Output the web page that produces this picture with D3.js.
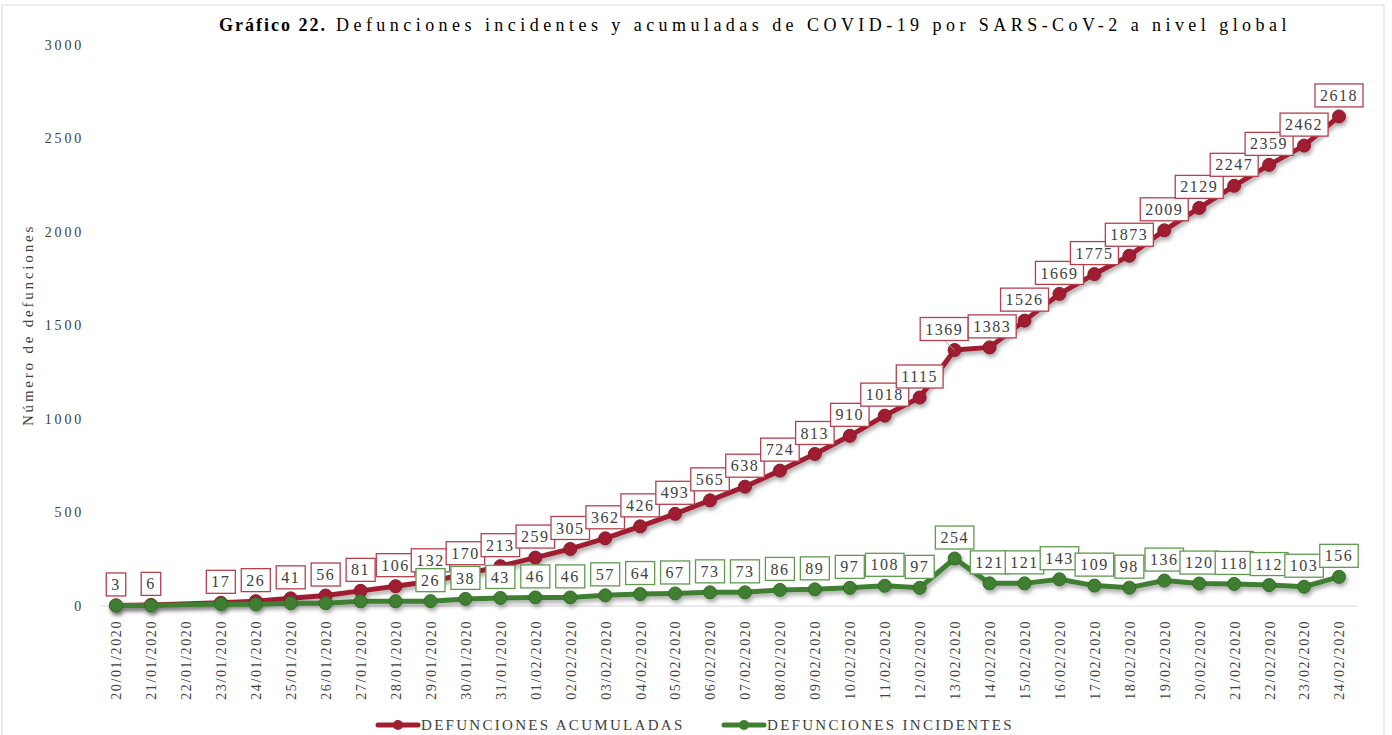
<!DOCTYPE html>
<html>
<head>
<meta charset="utf-8">
<script src="https://cdn.jsdelivr.net/npm/d3@7"></script>
<style>
  body { margin: 0; background: #fff; }
  text { font-family: "Liberation Serif", "DejaVu Serif", serif; }
</style>
</head>
<body>
<div class="chart"></div>
<script>
const dates = ["20/01/2020","21/01/2020","22/01/2020","23/01/2020","24/01/2020","25/01/2020","26/01/2020",
  "27/01/2020","28/01/2020","29/01/2020","30/01/2020","31/01/2020","01/02/2020","02/02/2020","03/02/2020",
  "04/02/2020","05/02/2020","06/02/2020","07/02/2020","08/02/2020","09/02/2020","10/02/2020","11/02/2020",
  "12/02/2020","13/02/2020","14/02/2020","15/02/2020","16/02/2020","17/02/2020","18/02/2020","19/02/2020",
  "20/02/2020","21/02/2020","22/02/2020","23/02/2020","24/02/2020"]

// 22/01 has no record
const acumuladas = [3, 6, null, 17, 26, 41, 56, 81, 106, 132, 170, 213, 259, 305, 362, 426, 493, 565, 638,
  724, 813, 910, 1018, 1115, 1369, 1383, 1526, 1669, 1775, 1873, 2009, 2129, 2247, 2359, 2462, 2618]
const incidentes = [3, 3, null, 11, 9, 15, 15, 25, 25, 26, 38, 43, 46, 46, 57, 64, 67, 73, 73,
  86, 89, 97, 108, 97, 254, 121, 121, 143, 109, 98, 136, 120, 118, 112, 103, 156]
// incident labels are only shown from this date on
const incidentesEtiquetaDesde = "29/01/2020"

const yTicks = [0, 500, 1000, 1500, 2000, 2500, 3000]

const W = 1392, H = 735
const red = "#9f1f30", redLight = "#b4404e"
const green = "#3f7f30", greenLight = "#5f9a4f"

const svg = d3.select(".chart").append("svg")
    .attr("width", W)
    .attr("height", H)

const defs = svg.append("defs")
const sh = defs.append("filter").attr("id", "shadow")
    .attr("x", "-10%").attr("y", "-10%").attr("width", "120%").attr("height", "130%")
sh.append("feDropShadow")
    .attr("dx", 1.5).attr("dy", 3).attr("stdDeviation", 2)
    .attr("flood-color", "#000").attr("flood-opacity", 0.35)

// outer frame
svg.append("rect")
    .attr("x", 2).attr("y", 5)
    .attr("width", 1382).attr("height", H + 10)
    .attr("fill", "none").attr("stroke", "#d9d9d9")

const x = d3.scalePoint()
    .domain(dates)
    .range([116, 1339])

const y = d3.scaleLinear()
    .domain([0, 3000])
    .range([606, 45])

// baseline
svg.append("line")
    .attr("x1", 100).attr("x2", 1358)
    .attr("y1", y(0)).attr("y2", y(0))
    .attr("stroke", "#d9d9d9")

const yGroup = svg.append("g")
    .attr("transform", "translate(84,0)")
    .call(d3.axisLeft(y).tickValues(yTicks).tickFormat(d3.format("d")).tickSize(0).tickPadding(0))
yGroup.select(".domain").remove()
yGroup.selectAll("text")
    .style("font-family", "Liberation Serif")
    .style("font-size", "14px")
    .style("letter-spacing", "2.8px")
    .attr("fill", "#404040")

const xGroup = svg.append("g")
    .attr("transform", `translate(0, ${y(0)})`)
    .call(d3.axisBottom(x).tickSize(0))
xGroup.select(".domain").remove()
xGroup.selectAll("text")
    .style("font-family", "Liberation Serif")
    .style("font-size", "14px")
    .style("letter-spacing", "1.6px")
    .attr("fill", "#404040")
    .attr("text-anchor", "end")
    .attr("transform", "rotate(-90)")
    .attr("x", -14)
    .attr("y", 0)
    .attr("dy", "0.35em")

// titles
const title = svg.append("text")
    .attr("x", 755).attr("y", 31)
    .attr("text-anchor", "middle")
    .style("font-size", "18px")
    .style("letter-spacing", "4.45px")
    .attr("fill", "#000")
title.append("tspan").style("font-weight", "bold").style("letter-spacing", "2px").text("Gráfico 22.")
title.append("tspan").text(" Defunciones incidentes y acumuladas de COVID-19 por SARS-CoV-2 a nivel global")

svg.append("text")
    .attr("transform", "translate(33,325) rotate(-90)")
    .attr("text-anchor", "middle")
    .style("font-size", "15px")
    .style("letter-spacing", "2.8px")
    .attr("fill", "#404040")
    .text("Número de defunciones")

// series
const series = [
  {name: "DEFUNCIONES ACUMULADAS", values: acumuladas, color: red, light: redLight, from: dates[0]},
  {name: "DEFUNCIONES INCIDENTES", values: incidentes, color: green, light: greenLight, from: incidentesEtiquetaDesde}
]

const line = d3.line()
    .x(d => x(d.date))
    .y(d => y(d.value))

series.forEach(s => {
  s.points = dates.map((d, i) => ({date: d, value: s.values[i]})).filter(d => d.value != null)
  const g = svg.append("g").attr("filter", "url(#shadow)")
  g.append("path")
      .datum(s.points)
      .attr("fill", "none")
      .attr("stroke", s.color)
      .attr("stroke-width", 5)
      .attr("stroke-linejoin", "round")
      .attr("d", line)
  g.selectAll("circle")
    .data(s.points)
    .join("circle")
      .attr("cx", d => x(d.date))
      .attr("cy", d => y(d.value))
      .attr("r", 6.5)
      .attr("fill", s.color)
      .attr("stroke", d3.color(s.color).darker(0.5))
      .attr("stroke-width", 1)
})

// data labels
series.forEach(s => {
  const start = dates.indexOf(s.from)
  const pts = s.points.filter(d => dates.indexOf(d.date) >= start)
  const lg = svg.append("g")
  const items = lg.selectAll("g")
    .data(pts)
    .join("g")
  items.append("line").attr("class", "leader")
      .attr("stroke", "#a6a6a6").attr("stroke-width", 1)
  items.append("rect")
      .attr("fill", "#fff")
      .attr("stroke", s.light)
      .attr("stroke-width", 1.3)
  const texts = items.append("text")
      .attr("text-anchor", "middle")
      .attr("dy", "0.35em")
      .style("font-size", "16px")
      .style("letter-spacing", "1.5px")
      .attr("fill", "#404040")
      .text(d => d.value)
  texts.each(function(d) {
    d.w = this.getComputedTextLength() + 10
    d.cx = x(d.date)
    d.cy = y(d.value) - 21
  })
  // push apart labels that sit at nearly the same height and clearly collide
  for (let i = 0; i < pts.length - 1; i++) {
    const a = pts[i], b = pts[i + 1]
    const overlapX = (a.cx + a.w / 2) - (b.cx - b.w / 2)
    if (overlapX > 5 && Math.abs(a.cy - b.cy) < 8) {
      a.cx -= overlapX * 0.8
      b.cx += overlapX * 0.2
    }
  }
  items.attr("transform", d => `translate(${d.cx},${d.cy})`)
  items.select("rect")
      .attr("x", d => -d.w / 2)
      .attr("width", d => d.w)
      .attr("y", -11.5)
      .attr("height", 23)
  items.select(".leader")
      .attr("x1", 0).attr("y1", 11.5)
      .attr("x2", d => x(d.date) - d.cx)
      .attr("y2", 21)
      .attr("display", d => Math.abs(x(d.date) - d.cx) > 6 ? null : "none")
})

// legend
const legend = svg.append("g")
    .attr("transform", "translate(0,725)")
const lx = [378, 724]
series.forEach((s, i) => {
  const g = legend.append("g").attr("transform", `translate(${lx[i]},0)`)
  g.append("line")
      .attr("x1", 0).attr("x2", 40)
      .attr("stroke", s.color).attr("stroke-width", 5).attr("stroke-linecap", "round")
  g.append("circle")
      .attr("cx", 20).attr("r", 5)
      .attr("fill", s.color)
  g.append("text")
      .attr("x", 43).attr("dy", "0.35em")
      .style("font-size", "15px")
      .style("letter-spacing", "2.3px")
      .attr("fill", "#404040")
      .text(s.name)
})
</script>
</body>
</html>
